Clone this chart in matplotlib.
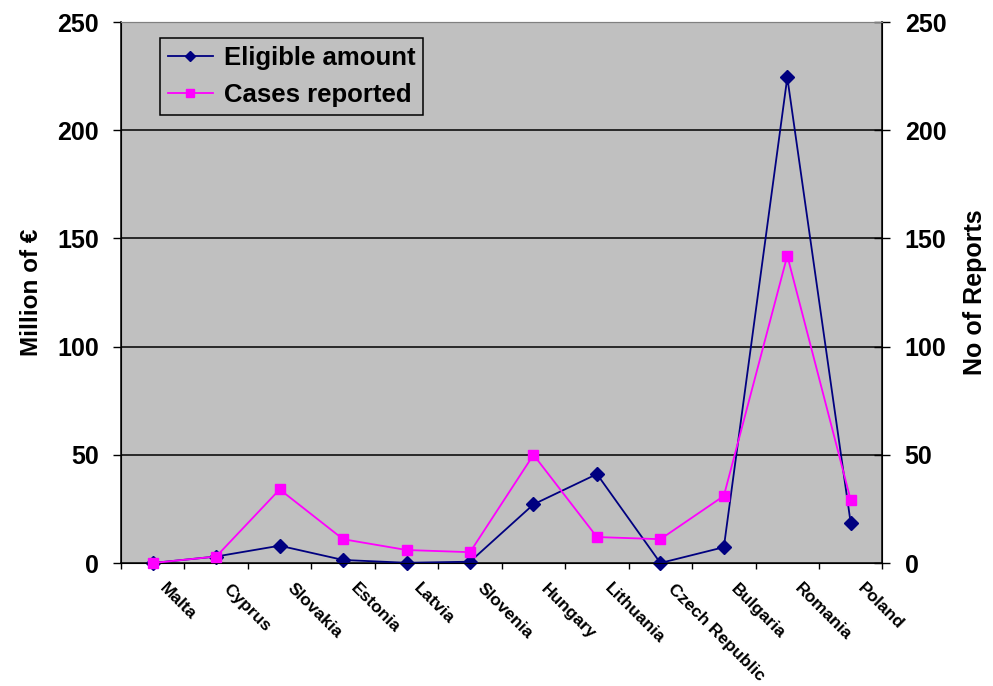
import matplotlib
matplotlib.use("Agg")
import matplotlib.pyplot as plt
import matplotlib.transforms as mtransforms
import numpy as np

plt.rcParams['font.family'] = ['Liberation Sans', 'DejaVu Sans']
plt.rcParams['font.weight'] = 'bold'

countries = ["Malta", "Cyprus", "Slovakia", "Estonia", "Latvia", "Slovenia",
             "Hungary", "Lithuania", "Czech Republic", "Bulgaria", "Romania", "Poland"]
eligible_amount = [0.0, 3.0, 8.0, 1.4, 0.1, 0.6, 27.1, 41.1, 0.0, 7.3, 224.4, 18.3]
cases_reported = [0, 3, 34, 11, 6, 5, 50, 12, 11, 31, 142, 29]
y_ticks = [0, 50, 100, 150, 200, 250]

NAVY = "#000080"
MAGENTA = "#FF00FF"
PLOT_BG = "#C0C0C0"

fig = plt.figure(figsize=(9.93, 6.86), dpi=100)
fig.patch.set_facecolor("white")
ax = fig.add_axes([0.1219, 0.1793, 0.7668, 0.7886])
ax.set_facecolor(PLOT_BG)
ax2 = ax.twinx()

x = np.arange(len(countries))

l1, = ax.plot(x, eligible_amount, color=NAVY, lw=1.3, marker="D", markersize=7,
              markerfacecolor=NAVY, markeredgecolor=NAVY, clip_on=False, zorder=4)
l2, = ax2.plot(x, cases_reported, color=MAGENTA, lw=1.3, marker="s", markersize=7,
               markerfacecolor=MAGENTA, markeredgecolor=MAGENTA, clip_on=False, zorder=5)

for a in (ax, ax2):
    a.set_xlim(-0.5, len(countries) - 0.5)
    a.set_ylim(0, 250)
    a.set_yticks(y_ticks)

# horizontal gridlines
for v in y_ticks[1:-1]:
    ax.axhline(v, color="black", lw=1.1, zorder=1)

# spines
ax.spines["top"].set_color("#808080")
ax2.spines["top"].set_color("#808080")
for s in ("left", "bottom"):
    ax.spines[s].set_color("black")
    ax.spines[s].set_linewidth(1.1)
ax2.spines["right"].set_color("black")
ax2.spines["right"].set_linewidth(1.1)

# y axes ticks and labels
ax.tick_params(axis="y", direction="out", length=6, width=1, pad=10,
               labelsize=18, colors="black")
ax2.tick_params(axis="y", direction="inout", length=12, width=1, pad=10,
                labelsize=18, colors="black")
for lab in ax.get_yticklabels() + ax2.get_yticklabels():
    lab.set_fontweight("bold")

ax.set_ylabel("Million of €", fontsize=17.5, fontweight="bold", labelpad=10)
ax2.set_ylabel("No of Reports", fontsize=18, fontweight="bold", labelpad=12)

# x axis: tick marks on category boundaries, rotated category names
ax.set_xticks(np.arange(-0.5, len(countries), 1.0))
ax.set_xticklabels([])
ax.tick_params(axis="x", direction="out", length=4, width=1, colors="black")
ax2.tick_params(axis="x", length=0)

base = mtransforms.blended_transform_factory(ax.transData, ax.transAxes)
offset = mtransforms.ScaledTranslation(15 / 100, -18 / 100, fig.dpi_scale_trans)
for xi, name in zip(x, countries):
    ax.text(xi, 0, name, transform=base + offset, rotation=-45,
            rotation_mode="anchor", ha="left", va="top",
            fontsize=12.5, fontweight="bold", color="black")

leg = ax2.legend([l1, l2], ["Eligible amount", "Cases reported"],
                 loc="upper left", bbox_to_anchor=(0.051, 0.97),
                 fontsize=18.5, frameon=True, fancybox=False, framealpha=1,
                 facecolor=PLOT_BG, edgecolor="black", handlelength=1.75,
                 handletextpad=0.45, borderpad=0.3, labelspacing=0.5,
                 borderaxespad=0, markerscale=0.75)
leg.get_frame().set_linewidth(1.1)
for t in leg.get_texts():
    t.set_fontweight("bold")

fig.savefig("out.png", dpi=100)
